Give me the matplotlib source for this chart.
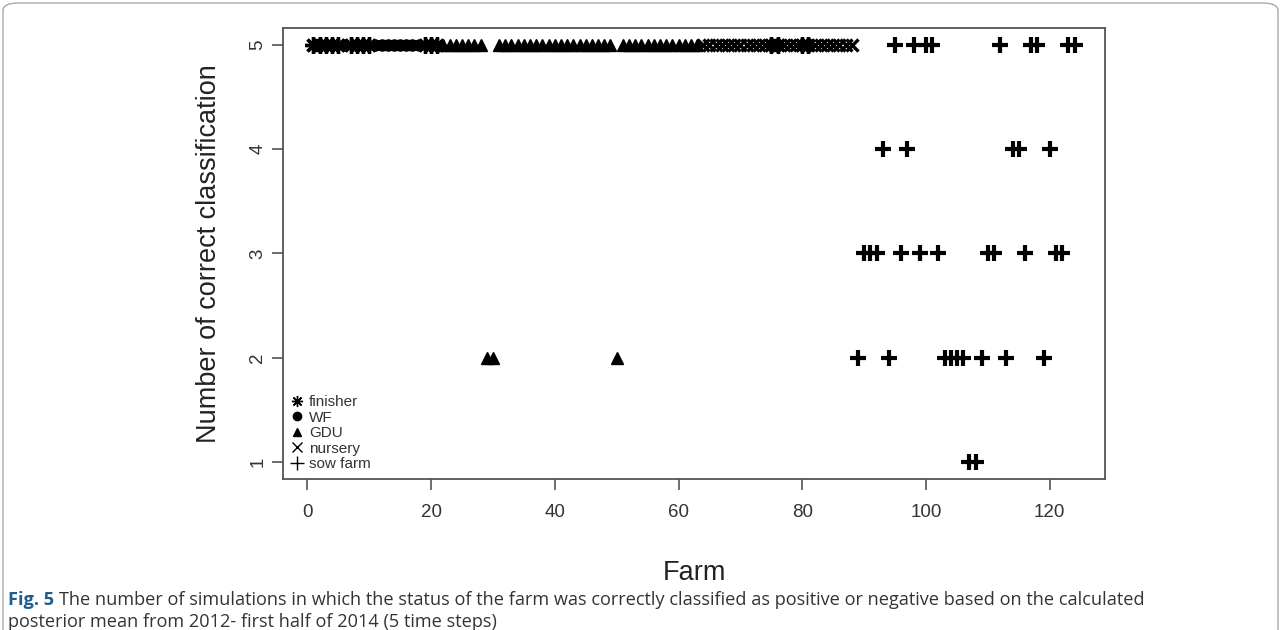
import matplotlib
matplotlib.use("Agg")
import matplotlib.pyplot as plt
from matplotlib.lines import Line2D
from matplotlib.patches import FancyBboxPatch

# ---------------- data ----------------
finisher_farm = [1, 2, 3, 4, 5, 7, 8, 9, 10, 19, 20, 21, 75, 76, 80, 81]
finisher_correct = [5] * len(finisher_farm)

wf_farm = [6, 11, 12, 13, 14, 15, 16, 17, 18]
wf_correct = [5] * len(wf_farm)

gdu_farm = list(range(22, 64))
gdu_correct = [2 if f in (29, 30, 50) else 5 for f in gdu_farm]

nursery_farm = [f for f in range(64, 89) if f not in (75, 76, 80, 81)]
nursery_correct = [5] * len(nursery_farm)

sow_farm = [95, 98, 100, 101, 112, 117, 118, 123, 124,
            93, 97, 114, 115, 120,
            90, 91, 92, 96, 99, 102, 110, 111, 116, 121, 122,
            89, 94, 103, 104, 105, 106, 109, 113, 119,
            107, 108]
sow_correct = [5] * 9 + [4] * 5 + [3] * 11 + [2] * 9 + [1] * 2

legend_labels = ["finisher", "WF", "GDU", "nursery", "sow farm"]
x_ticks = [0, 20, 40, 60, 80, 100, 120]
y_ticks = [1, 2, 3, 4, 5]

# ---------------- figure ----------------
plt.rcParams['font.family'] = ['Liberation Sans', 'DejaVu Sans']
fig = plt.figure(figsize=(12.81, 6.30), dpi=100)
ax = fig.add_axes([283/1281, 1-479/630, (1105-283)/1281, (479-28)/630])

ax.plot(finisher_farm, finisher_correct, linestyle='none', marker=(8, 2, 0),
        markersize=12, mew=2.4, color='black')
ax.plot(wf_farm, wf_correct, linestyle='none', marker='o', markersize=8, color='black')
ax.plot(gdu_farm, gdu_correct, linestyle='none', marker='^', markersize=8, color='black')
ax.plot(nursery_farm, nursery_correct, linestyle='none', marker='x',
        markersize=8.5, mew=2.4, color='black')
ax.plot(sow_farm, sow_correct, linestyle='none', marker='+',
        markersize=12, mew=3, color='black')

ax.set_xlim(1 - 0.04*123, 124 + 0.04*123)
ax.set_ylim(0.84, 5.16)
ax.set_xticks(x_ticks)
ax.set_yticks(y_ticks)
ax.set_yticklabels([str(v) for v in y_ticks], rotation=90, va='center')
for s in ax.spines.values():
    s.set_color('#555555')
    s.set_linewidth(1.3)
ax.tick_params(axis='both', direction='out', length=8, width=1.2, color='#555555',
               labelsize=13.5, labelcolor='#333333')
ax.tick_params(axis='x', pad=10)
ax.tick_params(axis='y', pad=4)

ax.set_xlabel("Farm", fontsize=19.5, color='#222222', labelpad=28)
ax.set_ylabel("Number of correct classification", fontsize=19.5, color='#222222', labelpad=20)

handles = [
    Line2D([], [], linestyle='none', marker=(8, 2, 0), markersize=8, mew=1, color='black'),
    Line2D([], [], linestyle='none', marker='o', markersize=6, color='black'),
    Line2D([], [], linestyle='none', marker='^', markersize=6, color='black'),
    Line2D([], [], linestyle='none', marker='x', markersize=7, mew=1, color='black'),
    Line2D([], [], linestyle='none', marker='+', markersize=10, mew=1, color='black'),
]
ax.legend(handles, legend_labels, loc='lower left', frameon=False, fontsize=11,
          handlelength=0.8, handletextpad=0.4, labelspacing=0.1,
          borderaxespad=0.3, borderpad=0.2, labelcolor='#333333')

# frame around the whole figure
frame = FancyBboxPatch((3/1281, -0.05), 1275/1281, 1.0 - 3/630 + 0.05,
                       boxstyle="round,pad=0,rounding_size=0.012",
                       transform=fig.transFigure, fill=False,
                       edgecolor='#aaaaaa', linewidth=1)
fig.patches.append(frame)

# caption
cap_font = ['Open Sans', 'DejaVu Sans']
cap_size = 13.1
t1 = fig.text(8/1281, 1-600/630, "Fig. 5", fontsize=cap_size, fontweight='bold',
              color='#1f5d8f', family=cap_font, va='center')
renderer = fig.canvas.get_renderer()
bb = t1.get_window_extent(renderer=renderer)
fig.text((bb.x1 + 5)/1281, 1-600/630,
         "The number of simulations in which the status of the farm was correctly classified as positive or negative based on the calculated",
         fontsize=cap_size, color='#333333', family=cap_font, va='center')
fig.text(8/1281, 1-622/630,
         "posterior mean from 2012- first half of 2014 (5 time steps)",
         fontsize=cap_size, color='#333333', family=cap_font, va='center')

fig.savefig("out.png", dpi=100)
